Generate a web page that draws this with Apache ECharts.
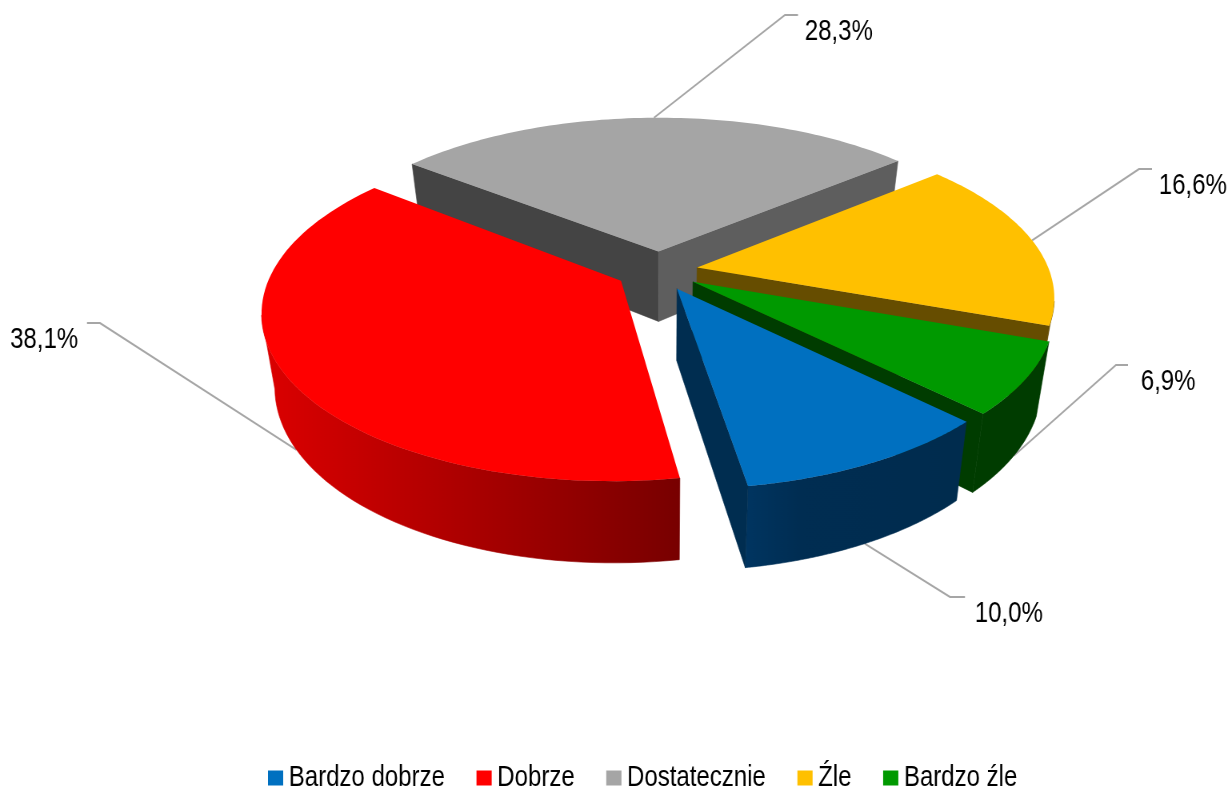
<!DOCTYPE html>
<html><head><meta charset="utf-8">
<style>html,body{margin:0;padding:0;background:#fff;width:1229px;height:789px;overflow:hidden}
#c{width:1536.25px;height:789px;transform:scaleX(0.8);transform-origin:0 0}</style>
<script src="https://cdn.jsdelivr.net/npm/echarts@6/dist/echarts.min.js"></script>
</head><body><div id="c"></div>
<script>
// ---- data ----
const categories = ['Bardzo dobrze', 'Dobrze', 'Dostatecznie', 'Źle', 'Bardzo źle'];
const shares = [10.0, 38.1, 28.3, 16.6, 6.9];

// ---- styling / layout ----
const SX = 0.8; // the reference is drawn condensed horizontally
const topColors = ['#0070c0', '#ff0000', '#a5a5a5', '#ffc000', '#009900'];
const explode = [0.08, 0.14, 0.11, 0.09, 0.09];
const widthScale = [1, 0.99, 1, 1, 1];
const nudge = [[0, 8], [0, 0], [-5, 0], [2, 1], [2, 5]];
const edgeColors = [['#002d50', '#002d50'], ['#7a0000', '#7a0000'], ['#444444', '#5e5e5e'], ['#664d00', '#664d00'], ['#003c00', '#003c00']];
const wallStops = [
  [[0, '#003561'], [0.25, '#002d52'], [1, '#002c4e']],
  [[0, '#dc0000'], [1, '#780000']],
  [[0, '#555555'], [1, '#555555']],
  [[0, '#664d00'], [1, '#664d00']],
  [[0, '#003c00'], [1, '#003c00']]
];
const leaderFromBase = [true, true, false, false, true];
const elbows = [[950, 597, 15], [100, 323, -13], [785, 15, 13], [1139, 169, 13], [1116, 365, 12]];
const labelShift = [3, 0, 0, 0, 6];
const paintOrder = [2, 3, 4, 1, 0];
const startDeg = 134.8;
const CX = 664, CY = 269, RX = 352, RY = 162, K = 0.17;

const total = shares.reduce((a, b) => a + b, 0);
function sliceAngles(i) {
  let a = startDeg;
  for (let j = 0; j < i; j++) a += shares[j] / total * 360;
  return [a, a + shares[i] / total * 360];
}
function project(u, v, nd) {
  const w = 1 + K * v;
  return [(CX + nd[0] + RX * u / w) / SX, CY + nd[1] - RY * v / w, v];
}
function base(p) {
  return [p[0] - (p[0] - CX / SX) * 0.033, p[1] + 71 - 10 * p[2]];
}
function rad(d) { return d * Math.PI / 180; }

function renderSlice(i, val, api) {
  const [a0, a1] = sliceAngles(i);
  const mid = rad((a0 + a1) / 2);
  const ox = explode[i] * Math.sin(mid), oy = explode[i] * Math.cos(mid);
  const nd = nudge[i];
  const rim = [], front = [];
  const n = 80;
  for (let s = 0; s <= n; s++) {
    const t = rad(a0 + (a1 - a0) * s / n);
    const p = project(ox + widthScale[i] * Math.sin(t), oy + Math.cos(t), nd);
    rim.push(p);
    if (Math.cos(t) < -0.2) front.push(p);
  }
  const apex = project(ox, oy, nd);
  const bRim = rim.map(base);
  const bApex = base(apex);
  const xy = p => [p[0], p[1]];
  const els = [];
  // leader + label
  const a = project(ox + widthScale[i] * Math.sin(mid), oy + Math.cos(mid), nd);
  const anchor = leaderFromBase[i] ? base(a) : xy(a);
  const e = elbows[i];
  const el = [e[0] / SX, e[1]];
  const endX = (e[0] + e[2]) / SX;
  els.push({ type: 'polyline', shape: { points: [anchor, el, [endX, el[1]]] }, style: { stroke: '#a6a6a6', lineWidth: 2, fill: null } });
  const txt = val.toFixed(1).replace('.', ',') + '%';
  els.push({ type: 'text', x: (e[2] > 0 ? endX + 8.5 : endX - 11) + labelShift[i] / SX, y: el[1] + 17,
    style: { text: txt, fill: '#000', font: '30px "Liberation Sans"', align: e[2] > 0 ? 'left' : 'right', verticalAlign: 'middle' } });
  // outer wall (front-facing part of the rim only)
  if (front.length > 1) {
    const grad = () => new echarts.graphic.LinearGradient(0, 0, 1, 0, wallStops[i].map(s => ({ offset: s[0], color: s[1] })));
    els.push({ type: 'polygon', shape: { points: front.map(xy).concat(front.map(base).reverse()) },
      style: { fill: grad(), stroke: grad(), lineWidth: 0.6 } });
  }
  // edge walls, only where the wall drops away from the top face
  const edge = (p, b, c) => {
    const side = (p[0] - apex[0]) * (rim[n >> 1][1] - apex[1]) - (p[1] - apex[1]) * (rim[n >> 1][0] - apex[0]);
    if (side * (p[0] - apex[0]) < 0) els.push({ type: 'polygon', shape: { points: [xy(apex), xy(p), b, bApex] }, style: { fill: c, stroke: c, lineWidth: 0.6 } });
  };
  edge(rim[0], bRim[0], edgeColors[i][0]);
  edge(rim[n], bRim[n], edgeColors[i][1]);
  // top face
  els.push({ type: 'polygon', shape: { points: [xy(apex)].concat(rim.map(xy)) }, style: { fill: topColors[i] } });
  return { type: 'group', children: els };
}

const chart = echarts.init(document.getElementById('c'), null, { renderer: 'canvas' });
chart.setOption({
  animation: false,
  backgroundColor: '#fff',
  legend: {
    data: categories, left: 330, top: 758, itemWidth: 19, itemHeight: 15, itemGap: 39.5,
    icon: 'rect',
    textStyle: { fontFamily: '"Liberation Sans"', fontSize: 30, color: '#000', padding: [0, 0, 0, 2] }
  },
  series: paintOrder.map(i => ({
    type: 'custom', name: categories[i], coordinateSystem: 'none',
    itemStyle: { color: topColors[i] },
    data: [shares[i]],
    renderItem: (p, api) => renderSlice(i, api.value(0), api)
  }))
});
</script></body></html>
